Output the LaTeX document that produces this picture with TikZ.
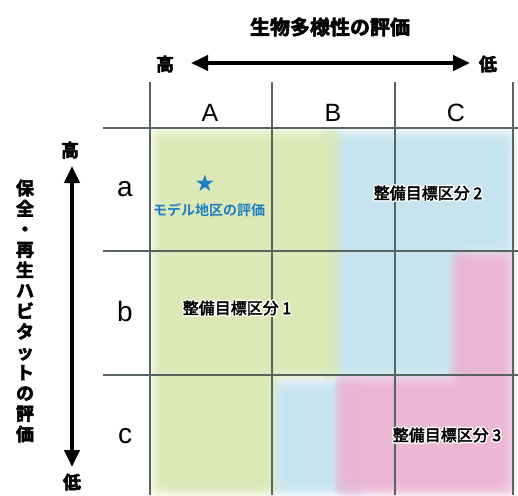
\documentclass[tikz,border=0pt]{standalone}
\usepackage{fontspec}
\usetikzlibrary{arrows.meta}
\newfontfamily\jp{Noto Sans CJK JP}
\newfontfamily\jpb{Noto Sans CJK JP Bold}
\newfontfamily\lat{Liberation Sans}
\newfontfamily\sym{DejaVu Sans}
\definecolor{zgreen}{RGB}{220,232,180}
\definecolor{zblue}{RGB}{196,228,240}
\definecolor{zpink}{RGB}{236,180,212}
\definecolor{gridc}{RGB}{88,100,96}
\definecolor{mblue}{RGB}{28,125,196}
% flush pending text, then change the text rendering state
\newcommand{\flushtxt}{\special{pdf:content q Q}}
\newcommand{\setpdf}[1]{\flushtxt\special{pdf:literal direct #1}}
% white outline drawn by stroking the glyphs, then the (slightly emboldened) text on top
\newcommand{\halo}[1]{\makebox[0pt][l]{\setpdf{1 Tr 3.4 w 1 J 1 j 1 1 1 RG}#1\setpdf{0 Tr}}%
  \setpdf{2 Tr 0.45 w 0 0 0 RG}#1\setpdf{0 Tr 1 w 0 J 0 j}}
\newcommand{\heavy}[1]{\setpdf{2 Tr 0.55 w 1 j 0 0 0 RG}#1\setpdf{0 Tr 1 w 0 j}}
\tikzset{
  gridline/.style={draw=gridc, line width=1.3pt},
  bigarrow/.style={line width=4pt, {Triangle[length=17pt,width=15pt]}-{Triangle[length=17pt,width=15pt]}},
  head/.style={font=\lat\fontsize{25}{25}\selectfont, inner sep=0pt},
  rowhead/.style={font=\lat\fontsize{28}{28}\selectfont, inner sep=0pt},
  jbold/.style={font=\jpb\fontsize{18}{18}\selectfont, inner sep=0pt},
  lbl/.style={font=\jp\fontsize{16}{16}\selectfont, inner sep=0pt},
  region/.style={rounded corners=8pt},
  soft/.style={fill=#1, fill opacity=0.3},
}
\begin{document}
\begin{tikzpicture}[x=1pt,y=-1pt]
\useasboundingbox (0,0) rectangle (518,495);
\fill[white] (0,0) rectangle (518,495);
% soft-edged regions: stacked translucent layers
\foreach \d in {0,2,4,6,8,10,12,14}{
  \fill[soft=zblue, region] (320+\d,129+\d) -- (516-\d,129+\d) -- (516-\d,258-\d) -- (470-\d,258-\d) -- (470-\d,380-\d) -- (320+\d,380-\d) -- cycle;
  \fill[soft=zblue, region] (269+\d,378+\d) rectangle (365-\d,496-\d);
}
\foreach \d in {0,2,4,6,8,10,12,14}{
  \fill[soft=zpink, region] (450+\d,250+\d) -- (516-\d,250+\d) -- (516-\d,496-\d) -- (334+\d,496-\d) -- (334+\d,374+\d) -- (450+\d,374+\d) -- cycle;
}
\foreach \d in {0,2,4,6,8,10,12,14}{
  \fill[soft=zgreen, region] (150+\d,128+\d) -- (342-\d,128+\d) -- (342-\d,380-\d) -- (278-\d,380-\d) -- (278-\d,496-\d) -- (150+\d,496-\d) -- cycle;
}
% grid
\coordinate (v1t) at (150,82); \coordinate (v1b) at (150,495);
\coordinate (v2t) at (272,82); \coordinate (v2b) at (272,495);
\coordinate (v3t) at (395,82); \coordinate (v3b) at (395,495);
\coordinate (v4t) at (513,82); \coordinate (v4b) at (513,495);
\coordinate (h1l) at (103,128); \coordinate (h1r) at (518,128);
\coordinate (h2l) at (103,251); \coordinate (h2r) at (518,251);
\coordinate (h3l) at (103,375); \coordinate (h3r) at (518,375);
\draw[gridline] (v1t) -- (v1b);
\draw[gridline] (v2t) -- (v2b);
\draw[gridline] (v3t) -- (v3b);
\draw[gridline] (v4t) -- (v4b);
\draw[gridline] (h1l) -- (h1r);
\draw[gridline] (h2l) -- (h2r);
\draw[gridline] (h3l) -- (h3r);
% headers
\node[head] (A) at (210,113) {A};
\node[head] (B) at (333,113) {B};
\node[head] (C) at (456,113) {C};
\node[rowhead] (ra) at (125,189) {a};
\node[rowhead] (rb) at (125,311) {b};
\node[rowhead] (rc) at (125,436) {c};
% top axis
\node[font=\jpb\fontsize{20}{20}\selectfont, inner sep=0pt] (title) at (330,27) {\heavy{生物多様性の評価}};
\node[jbold] (hiT) at (165,64) {\heavy{高}};
\node[jbold] (loT) at (488,64) {\heavy{低}};
\coordinate (arL) at (191,63); \coordinate (arR) at (470,63);
\draw[bigarrow] (arL) -- (arR);
% left axis
\node[jbold] (hiL) at (70,150) {\heavy{高}};
\node[jbold] (loL) at (72,482) {\heavy{低}};
\coordinate (arT) at (72,166); \coordinate (arB) at (72,467);
\draw[bigarrow] (arT) -- (arB);
\node[font=\jpb\fontsize{18}{20.5}\selectfont, inner sep=0pt, align=center] (vtitle) at (25,311)
  {\heavy{保}\\\heavy{全}\\\heavy{・}\\\heavy{再}\\\heavy{生}\\\heavy{ハ}\\\heavy{ビ}\\\heavy{タ}\\\heavy{ッ}\\\heavy{ト}\\\heavy{の}\\\heavy{評}\\\heavy{価}};
% model
\node[font=\sym\fontsize{23}{23}\selectfont, text=mblue, inner sep=0pt] (star) at (205,183) {★};
\node[font=\jpb\fontsize{14}{14}\selectfont, text=mblue, inner sep=0pt] (model) at (209,210) {モデル地区の評価};
% labels
\node[lbl] (k2) at (428,193) {\halo{整備目標区分 2}};
\node[lbl] (k1) at (237,308) {\halo{整備目標区分 1}};
\node[lbl] (k3) at (447,435) {\halo{整備目標区分 3}};
\end{tikzpicture}
\end{document}
